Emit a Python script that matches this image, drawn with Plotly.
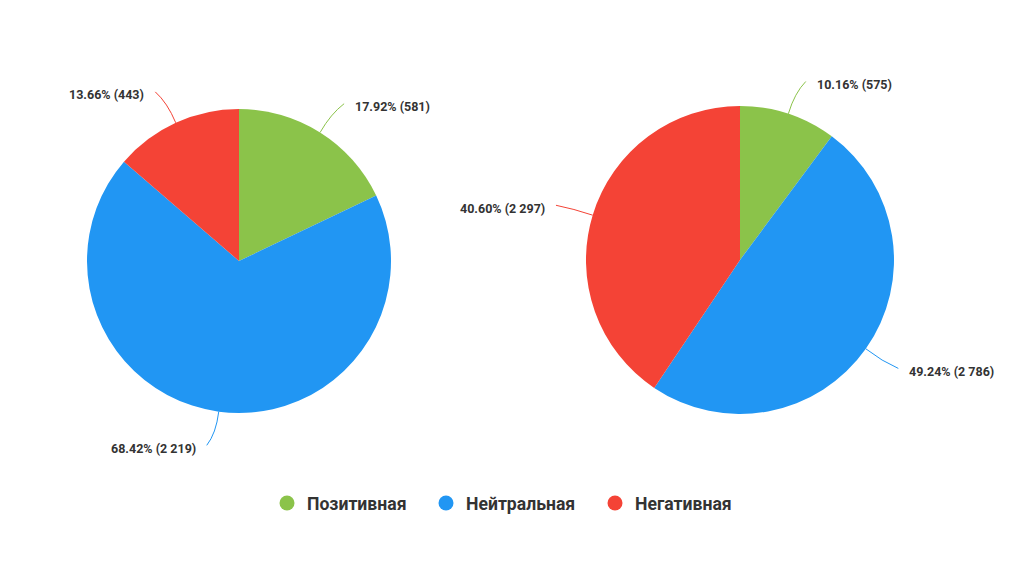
import math
import plotly.graph_objects as go

# data
categories = ['Позитивная', 'Нейтральная', 'Негативная']
colors = ['#8BC34A', '#2196F3', '#F44336']
left_values = [581, 2219, 443]
right_values = [575, 2786, 2297]

# the page body has an 8px margin, so the plot is 1008x548 starting at (8, 8)
OX, OY, W, H = 8, 8, 1008, 548
# pixel geometry of the two pies (centre x, centre y, radius)
pies = [
    (left_values, 239, 261, 152),
    (right_values, 740, 260, 154),
]
legend_text_x = [307, 466, 635]
legend_y = 503


def px(x):
    return (x - OX) / W


def py(y):
    return 1 - (y - OY) / H


def fmt(v):
    return f'{v:,}'.replace(',', ' ')


fig = go.Figure()
shapes = []
annotations = []

for values, cx, cy, r in pies:
    fig.add_trace(go.Pie(
        labels=categories, values=values, sort=False, direction='clockwise',
        rotation=0, textinfo='none', hoverinfo='label+value+percent',
        marker=dict(colors=colors, line=dict(width=0)),
        showlegend=False,
        domain=dict(x=[px(cx - r), px(cx + r)], y=[py(cy + r), py(cy - r)]),
    ))

    # leader lines + outside labels
    total = sum(values)
    start = 0
    for v, c in zip(values, colors):
        mid = (start + v / 2) / total * 2 * math.pi
        start += v
        ux, uy = math.sin(mid), -math.cos(mid)
        side = 1 if ux >= 0 else -1
        ex, ey = cx + r * ux, cy + r * uy
        qx, qy = cx + (r + 20) * ux, cy + (r + 22) * uy
        lx, ly = cx + (r + 30) * ux + side * 8, cy + (r + 34) * uy
        shapes.append(dict(
            type='path', xref='paper', yref='paper',
            path=f'M {px(ex)},{py(ey)} Q {px(qx)},{py(qy)} {px(lx)},{py(ly)}',
            line=dict(color=c, width=1),
        ))
        annotations.append(dict(
            xref='paper', yref='paper', x=px(lx + side * 9), y=py(ly + 3),
            xanchor='left' if side > 0 else 'right', yanchor='middle',
            text=f'{v / total * 100:.2f}% ({fmt(v)})', showarrow=False,
            font=dict(family='Roboto', size=12.5, color='#333333', weight='bold'),
        ))

# legend entries with round markers, one legend box per entry
legends = {}
for i, (name, c, tx) in enumerate(zip(categories, colors, legend_text_x)):
    key = 'legend' if i == 0 else f'legend{i + 1}'
    fig.add_trace(go.Scatter(
        x=[None], y=[None], mode='markers', name=name, legend=key,
        marker=dict(color=c, size=15, symbol='circle'),
    ))
    legends[key] = dict(
        orientation='h', x=px(tx - 40), xanchor='left',
        y=py(legend_y), yanchor='middle', bgcolor='rgba(0,0,0,0)',
        font=dict(family='Roboto', size=17.6, color='#333333', weight='bold'),
        itemclick=False, itemdoubleclick=False,
    )

fig.update_layout(
    paper_bgcolor='white', plot_bgcolor='white',
    margin=dict(l=0, r=0, t=0, b=0),
    xaxis=dict(visible=False), yaxis=dict(visible=False),
    shapes=shapes, annotations=annotations,
    **legends,
)

fig.write_html('out.html')
